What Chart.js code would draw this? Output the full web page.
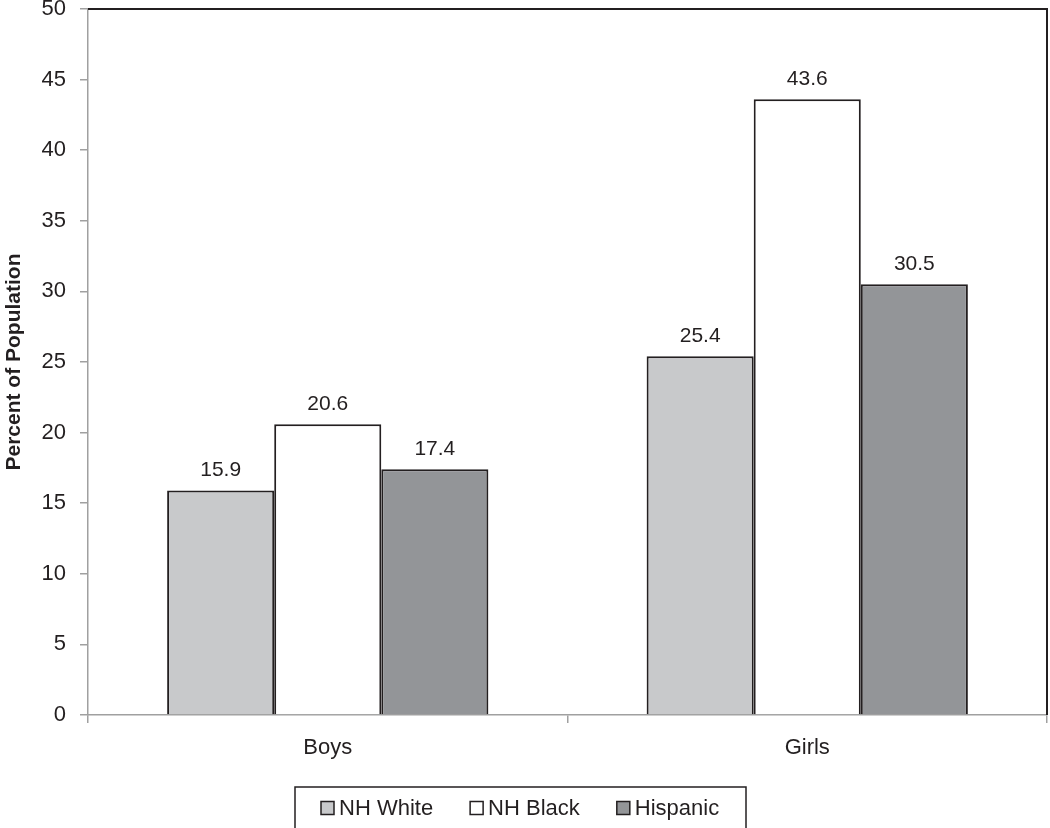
<!DOCTYPE html>
<html>
<head>
<meta charset="utf-8">
<script src="https://cdn.jsdelivr.net/npm/chart.js@4/dist/chart.umd.min.js"></script>
<style>
html,body{margin:0;padding:0;background:#fff;}
#wrap{width:1050px;height:828px;position:relative;}
</style>
</head>
<body>
<div id="wrap"><canvas id="c" width="1050" height="828"></canvas></div>
<script>
const categories = ["Boys", "Girls"];
const seriesNames = ["NH White", "NH Black", "Hispanic"];
const nhWhite = [15.9, 25.4];
const nhBlack = [20.6, 43.6];
const hispanic = [17.4, 30.5];
const seriesColors = ["#c8c9cb", "#ffffff", "#939598"];
const yTitle = "Percent of Population";

const FONT = "'Liberation Sans', Arial, sans-serif";
const INK = "#231f20";
const AXIS = "#a0a0a0";

const frame = {
  id: "frame",
  afterDraw(chart) {
    const {ctx, chartArea: a} = chart;
    ctx.save();
    ctx.strokeStyle = INK;
    ctx.lineWidth = 2;
    ctx.beginPath();
    ctx.moveTo(a.left, a.top);
    ctx.lineTo(a.right, a.top);
    ctx.lineTo(a.right, a.bottom);
    ctx.stroke();
    ctx.restore();
  }
};

const valueLabels = {
  id: "valueLabels",
  afterDatasetsDraw(chart) {
    const ctx = chart.ctx;
    ctx.save();
    ctx.font = "21px " + FONT;
    ctx.fillStyle = INK;
    ctx.textAlign = "center";
    ctx.textBaseline = "alphabetic";
    chart.data.datasets.forEach((ds, di) => {
      chart.getDatasetMeta(di).data.forEach((bar, i) => {
        ctx.fillText(ds.data[i].toFixed(1), bar.x, bar.y - 14);
      });
    });
    ctx.restore();
  }
};

const boxLegend = {
  id: "boxLegend",
  afterDraw(chart) {
    const ctx = chart.ctx;
    ctx.save();
    ctx.font = "22px " + FONT;
    const boxL = 295, boxT = 787, boxR = 746, boxB = 840;
    ctx.strokeStyle = INK;
    ctx.lineWidth = 1.5;
    ctx.strokeRect(boxL, boxT, boxR - boxL, boxB - boxT);
    let x = 321;
    const cy = 808;
    ctx.textBaseline = "middle";
    ctx.textAlign = "left";
    chart.data.datasets.forEach(ds => {
      ctx.fillStyle = ds.backgroundColor;
      ctx.fillRect(x, cy - 6.5, 13, 13);
      ctx.strokeStyle = INK;
      ctx.lineWidth = 1.5;
      ctx.strokeRect(x, cy - 6.5, 13, 13);
      ctx.fillStyle = INK;
      ctx.fillText(ds.label, x + 18, cy + 1);
      x += 18 + ctx.measureText(ds.label).width + 37;
    });
    ctx.restore();
  }
};

const seriesData = [nhWhite, nhBlack, hispanic];

new Chart(document.getElementById("c"), {
  type: "bar",
  data: {
    labels: categories,
    datasets: seriesNames.map((name, i) => ({
      label: name,
      data: seriesData[i],
      backgroundColor: seriesColors[i],
      borderColor: INK,
      borderWidth: 2,
      categoryPercentage: 0.67,
      barPercentage: 1.0
    }))
  },
  options: {
    responsive: false,
    animation: false,
    layout: {padding: {top: 9, right: 3, bottom: 0, left: 0}},
    plugins: {
      legend: {display: false},
      tooltip: {enabled: false}
    },
    scales: {
      x: {
        grid: {drawOnChartArea: false, drawTicks: true, tickLength: 8, color: AXIS, lineWidth: 1.5},
        border: {color: AXIS, width: 1.5},
        ticks: {color: INK, font: {family: FONT, size: 22}, padding: 12},
        afterFit(s) { s.height = 113; s.paddingLeft = 0; s.paddingRight = 0; }
      },
      y: {
        min: 0, max: 50,
        grid: {drawOnChartArea: false, drawTicks: true, tickLength: 8, color: AXIS, lineWidth: 1.5},
        border: {color: AXIS, width: 1.5},
        ticks: {stepSize: 5, color: INK, font: {family: FONT, size: 22}, padding: 14},
        title: {display: true, text: yTitle, color: INK, font: {family: FONT, size: 21, weight: "bold"}, padding: {top: 2, bottom: 0}},
        afterFit(s) { s.width = 88; s.paddingTop = 0; s.paddingBottom = 0; }
      }
    }
  },
  plugins: [frame, valueLabels, boxLegend]
});
</script>
</body>
</html>
